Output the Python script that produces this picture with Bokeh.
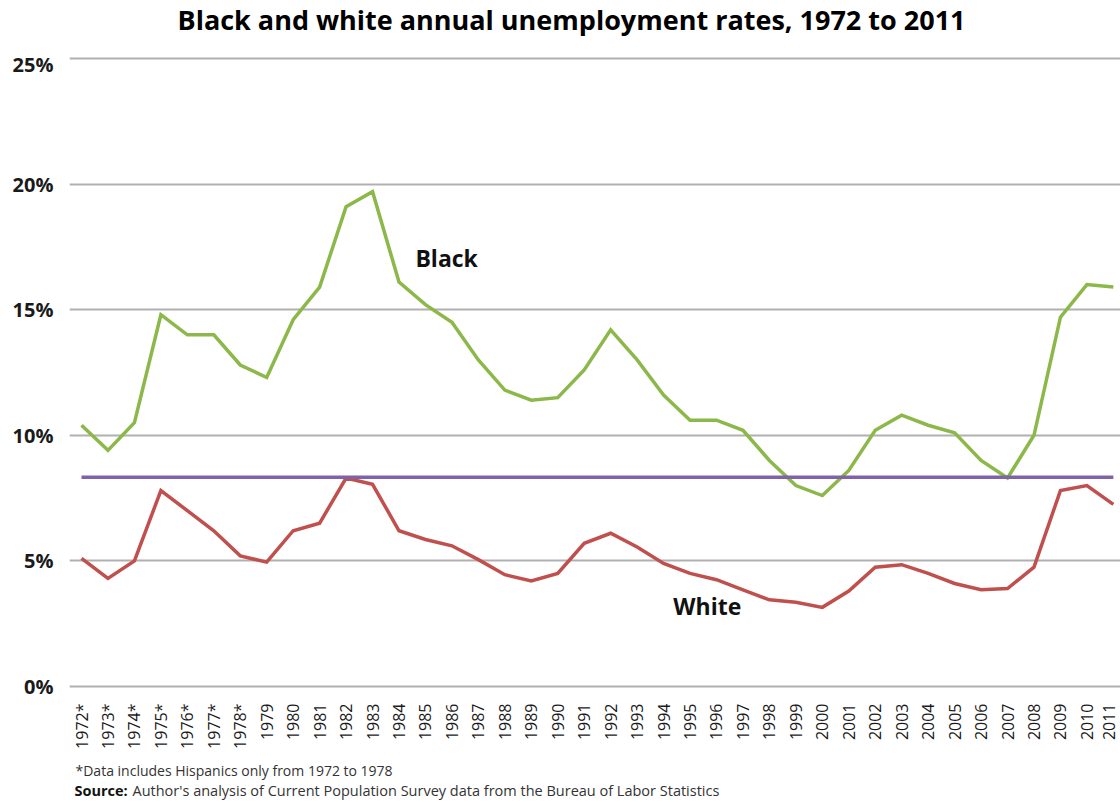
from bokeh.plotting import figure
from bokeh.models import FixedTicker, Range1d, Label
from bokeh.layouts import column
from bokeh.core.properties import value
from bokeh.embed import file_html
from bokeh.resources import INLINE

years = list(range(1972, 2012))
year_labels = [f"{y}*" if y <= 1978 else str(y) for y in years]

black = [10.4, 9.4, 10.5, 14.8, 14.0, 14.0, 12.8, 12.3, 14.6, 15.9,
         19.1, 19.7, 16.1, 15.2, 14.5, 13.0, 11.8, 11.4, 11.5, 12.6,
         14.2, 13.0, 11.6, 10.6, 10.6, 10.2, 9.0, 8.0, 7.6, 8.6,
         10.2, 10.8, 10.4, 10.1, 9.0, 8.3, 10.0, 14.7, 16.0, 15.9]
white = [5.1, 4.3, 5.0, 7.8, 7.0, 6.2, 5.2, 4.95, 6.2, 6.5,
         8.3, 8.05, 6.2, 5.85, 5.6, 5.05, 4.45, 4.2, 4.5, 5.7,
         6.1, 5.55, 4.9, 4.5, 4.25, 3.85, 3.45, 3.35, 3.15, 3.8,
         4.75, 4.85, 4.5, 4.1, 3.85, 3.9, 4.75, 7.8, 8.0, 7.25]
reference_level = 8.33

y_ticks = [0, 5, 10, 15, 20, 25]
y_tick_labels = ["0%", "5%", "10%", "15%", "20%", "25%"]

title_text = "Black and white annual unemployment rates, 1972 to 2011"
note_text = "*Data includes Hispanics only from 1972 to 1978"
source_bold = "Source:"
source_text = "Author's analysis of Current Population Survey data from the Bureau of Labor Statistics"

FONT = "Open Sans"


def text_strip(height):
    f = figure(width=1120, height=height, output_backend="svg", toolbar_location=None,
               x_range=Range1d(69, 1120), y_range=Range1d(height, 0),
               x_axis_type=None, y_axis_type=None,
               frame_width=1051, frame_height=height,
               min_border_left=69, min_border_right=0, min_border_top=0,
               min_border_bottom=0)
    f.outline_line_color = None
    f.grid.visible = False
    return f


# title strip
p0 = text_strip(50)
p0.text(x=[571], y=[19], text=[title_text], text_font=value(FONT),
        text_font_style="bold", text_font_size="27px", text_baseline="middle",
        text_align="center", text_color="#000000")

# main chart
p = figure(width=1120, height=702, output_backend="svg", toolbar_location=None,
           x_range=Range1d(1971.546, 2011.27), y_range=Range1d(-0.2, 25.2),
           frame_width=1051, frame_height=638,
           min_border_left=69, min_border_right=0, min_border_top=3,
           min_border_bottom=61)
p.outline_line_color = None
p.background_fill_color = "white"
p.border_fill_color = "white"

p.xaxis.ticker = FixedTicker(ticks=years)
p.xaxis.major_label_overrides = {y: l for y, l in zip(years, year_labels)}
p.xaxis.major_label_orientation = 1.5708
p.xaxis.axis_line_color = None
p.xaxis.major_tick_line_color = None
p.xaxis.minor_tick_line_color = None
p.xaxis.major_label_standoff = 6
p.xaxis.major_label_text_font = FONT
p.xaxis.major_label_text_font_size = "16px"
p.xaxis.major_label_text_color = "#1a1a1a"

p.yaxis.ticker = FixedTicker(ticks=y_ticks)
p.yaxis.major_label_overrides = {t: l for t, l in zip(y_ticks, y_tick_labels)}
p.yaxis.axis_line_color = None
p.yaxis.major_tick_line_color = None
p.yaxis.minor_tick_line_color = None
p.yaxis.major_label_standoff = 10
p.yaxis.major_label_text_font = FONT
p.yaxis.major_label_text_font_style = "bold"
p.yaxis.major_label_text_font_size = "20px"
p.yaxis.major_label_text_color = "#1a1a1a"

p.xgrid.grid_line_color = None
p.ygrid.grid_line_color = "#b0b0b0"
p.ygrid.grid_line_width = 2

p.line(years, black, line_color="#8cb84a", line_width=3.5, line_join="miter")
p.line(years, white, line_color="#c0504d", line_width=3.5, line_join="miter")
p.line([years[0], years[-1]], [reference_level, reference_level],
       line_color="#7f62a8", line_width=3.5)

p.add_layout(Label(x=1984.62, y=17.05, text="Black", text_font=FONT,
                   text_font_style="bold", text_font_size="23px",
                   text_baseline="middle", text_align="left", text_color="#111111"))
p.add_layout(Label(x=1994.37, y=3.2, text="White", text_font=FONT,
                   text_font_style="bold", text_font_size="23px",
                   text_baseline="middle", text_align="left", text_color="#111111"))

# footnote strip
p2 = text_strip(48)
p2.text(x=[75], y=[18], text=[note_text], text_font=value(FONT),
        text_font_size="14px", text_baseline="middle", text_align="left",
        text_color="#333333")
p2.text(x=[74], y=[38], text=[source_bold], text_font=value(FONT),
        text_font_style="bold", text_font_size="14.5px", text_baseline="middle",
        text_align="left", text_color="#111111")
p2.text(x=[132], y=[38], text=[source_text], text_font=value(FONT),
        text_font_size="14.5px", text_baseline="middle", text_align="left",
        text_color="#333333")

layout = column(p0, p, p2, spacing=0)
open("out.html", "w").write(file_html(layout, INLINE))
